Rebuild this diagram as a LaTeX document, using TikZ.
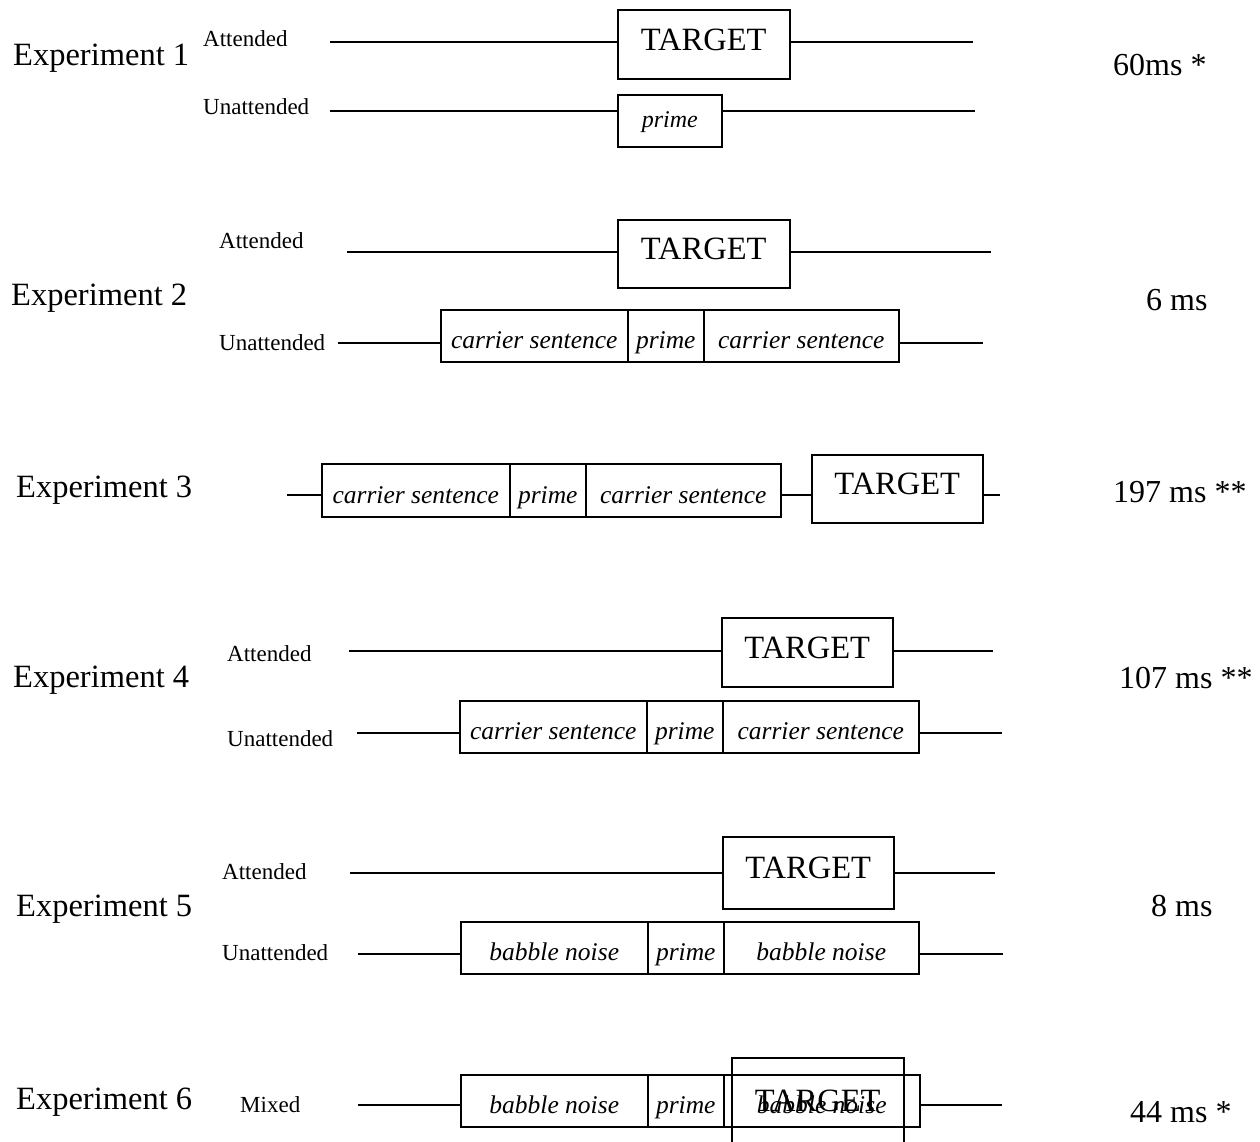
\documentclass[tikz,border=0pt]{standalone}
\usepackage{fontspec}
\setmainfont{Liberation Serif}
\begin{document}
\begin{tikzpicture}[x=1pt,y=-1pt,
  explbl/.style={anchor=base west,inner sep=0pt,font=\fontsize{32.5}{36}\selectfont},
  chan/.style={anchor=base west,inner sep=0pt,font=\fontsize{23}{26}\selectfont},
  res/.style={anchor=base west,inner sep=0pt,font=\fontsize{32}{36}\selectfont},
  tbox/.style={draw,line width=1.5pt,anchor=north west,inner sep=0pt,
    font=\fontsize{32.5}{36}\selectfont,text height=21pt,text depth=9pt},
  sbox/.style={draw,line width=1.5pt,anchor=north west,inner sep=0pt,
    font=\fontsize{25.5}{28}\selectfont\itshape,text height=26pt,text depth=0pt},
  tl/.style={line width=2pt}]
\useasboundingbox (0,0) rectangle (1260,1141);
\clip (0,0) rectangle (1260,1141);

% ---------- Experiment 1 ----------
\node[explbl] (e1) at (13,65) {Experiment 1};
\node[chan] (a1) at (203,46) {Attended};
\node[chan] (u1) at (203,114) {Unattended};
\node[res] (r1) at (1113,75) {60ms *};
\node[tbox,minimum width=172,minimum height=69] (t1) at (617,9) {TARGET};
\node[sbox,minimum width=104,minimum height=52,
  font=\fontsize{24}{26}\selectfont\itshape,text height=14pt] (p1) at (617,94) {prime};
\coordinate (a1s) at (330,42); \coordinate (a1e) at (973,42);
\coordinate (u1s) at (330,111); \coordinate (u1e) at (975,111);
\draw[tl] (a1s) -- (t1.west |- a1s);
\draw[tl] (t1.east |- a1s) -- (a1e);
\draw[tl] (u1s) -- (p1.west |- u1s);
\draw[tl] (p1.east |- u1s) -- (u1e);

% ---------- Experiment 2 ----------
\node[explbl] (e2) at (11,305) {Experiment 2};
\node[chan] (a2) at (219,248) {Attended};
\node[chan] (u2) at (219,350) {Unattended};
\node[res] (r2) at (1146,310) {6 ms};
\node[tbox,minimum width=172,minimum height=68] (t2) at (617,219) {TARGET};
\node[sbox,minimum width=187,minimum height=52] (c2a) at (440,309) {carrier sentence};
\node[sbox,minimum width=76,minimum height=52] (p2) at (627,309) {prime};
\node[sbox,minimum width=195,minimum height=52] (c2b) at (703,309) {carrier sentence};
\coordinate (a2s) at (347,252); \coordinate (a2e) at (991,252);
\coordinate (u2s) at (338,343); \coordinate (u2e) at (983,343);
\draw[tl] (a2s) -- (t2.west |- a2s);
\draw[tl] (t2.east |- a2s) -- (a2e);
\draw[tl] (u2s) -- (c2a.west |- u2s);
\draw[tl] (c2b.east |- u2s) -- (u2e);

% ---------- Experiment 3 ----------
\node[explbl] (e3) at (16,497) {Experiment 3};
\node[res] (r3) at (1113,502) {197 ms **};
\node[sbox,minimum width=188,minimum height=53] (c3a) at (321,463) {carrier sentence};
\node[sbox,minimum width=76,minimum height=53] (p3) at (509,463) {prime};
\node[sbox,minimum width=195,minimum height=53] (c3b) at (585,463) {carrier sentence};
\node[tbox,minimum width=171,minimum height=68] (t3) at (811,454) {TARGET};
\coordinate (l3s) at (287,495); \coordinate (l3e) at (1000,495);
\draw[tl] (l3s) -- (c3a.west |- l3s);
\draw[tl] (c3b.east |- l3s) -- (t3.west |- l3s);
\draw[tl] (t3.east |- l3s) -- (l3e);

% ---------- Experiment 4 ----------
\node[explbl] (e4) at (13,687) {Experiment 4};
\node[chan] (a4) at (227,661) {Attended};
\node[chan] (u4) at (227,746) {Unattended};
\node[res] (r4) at (1119,688) {107 ms **};
\node[tbox,minimum width=171,minimum height=69] (t4) at (721,617) {TARGET};
\node[sbox,minimum width=187,minimum height=52] (c4a) at (459,700) {carrier sentence};
\node[sbox,minimum width=76,minimum height=52] (p4) at (646,700) {prime};
\node[sbox,minimum width=196,minimum height=52] (c4b) at (722,700) {carrier sentence};
\coordinate (a4s) at (349,651); \coordinate (a4e) at (993,651);
\coordinate (u4s) at (357,733); \coordinate (u4e) at (1002,733);
\draw[tl] (a4s) -- (t4.west |- a4s);
\draw[tl] (t4.east |- a4s) -- (a4e);
\draw[tl] (u4s) -- (c4a.west |- u4s);
\draw[tl] (c4b.east |- u4s) -- (u4e);

% ---------- Experiment 5 ----------
\node[explbl] (e5) at (16,916) {Experiment 5};
\node[chan] (a5) at (222,879) {Attended};
\node[chan] (u5) at (222,960) {Unattended};
\node[res] (r5) at (1151,916) {8 ms};
\node[tbox,minimum width=171,minimum height=72] (t5) at (722,836) {TARGET};
\node[sbox,minimum width=187,minimum height=52] (b5a) at (460,921) {babble noise};
\node[sbox,minimum width=76,minimum height=52] (p5) at (647,921) {prime};
\node[sbox,minimum width=195,minimum height=52] (b5b) at (723,921) {babble noise};
\coordinate (a5s) at (350,873); \coordinate (a5e) at (995,873);
\coordinate (u5s) at (358,954); \coordinate (u5e) at (1003,954);
\draw[tl] (a5s) -- (t5.west |- a5s);
\draw[tl] (t5.east |- a5s) -- (a5e);
\draw[tl] (u5s) -- (b5a.west |- u5s);
\draw[tl] (b5b.east |- u5s) -- (u5e);

% ---------- Experiment 6 ----------
\node[explbl] (e6) at (16,1109) {Experiment 6};
\node[chan] (m6) at (240,1112) {Mixed};
\node[res] (r6) at (1130,1122) {44 ms *};
\node[sbox,minimum width=187,minimum height=52] (b6a) at (460,1074) {babble noise};
\node[sbox,minimum width=76,minimum height=52] (p6) at (647,1074) {prime};
\node[sbox,minimum width=196,minimum height=52] (b6b) at (723,1074) {babble noise};
\node[tbox,minimum width=172,minimum height=96] (t6) at (731,1057) {TARGET};
\coordinate (m6s) at (358,1105); \coordinate (m6e) at (1002,1105);
\draw[tl] (m6s) -- (b6a.west |- m6s);
\draw[tl] (b6b.east |- m6s) -- (m6e);
\end{tikzpicture}
\end{document}
